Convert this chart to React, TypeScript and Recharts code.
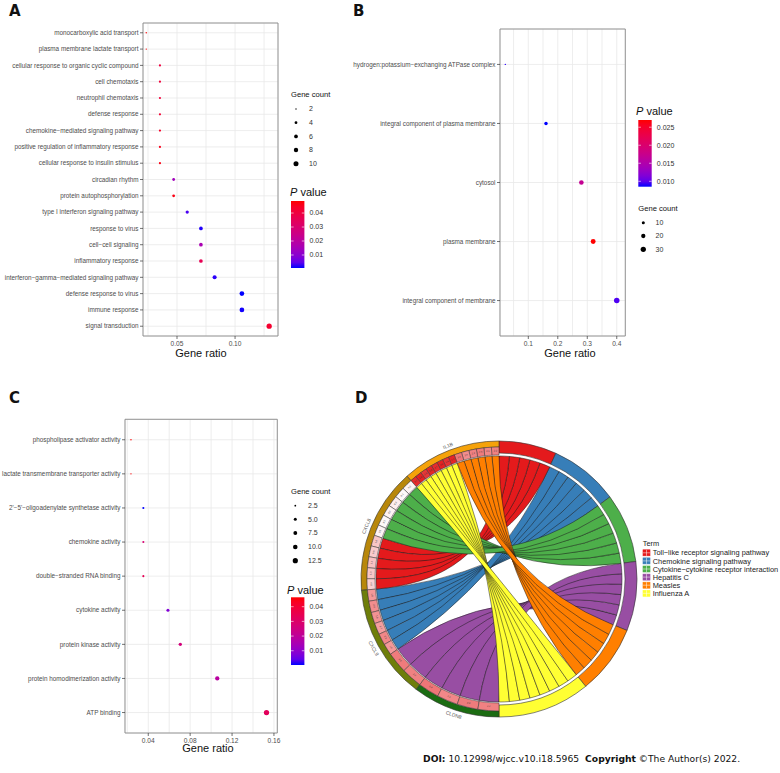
import React from 'react';
import {
  ScatterChart,
  Scatter,
  XAxis,
  YAxis,
  ZAxis,
  CartesianGrid,
  ReferenceArea,
  Cell,
  PieChart,
  Pie,
  Customized
} from 'recharts';

const FONT = '"Liberation Sans", Arial, sans-serif';
const WIDE_FONT = '"DejaVu Sans", Verdana, sans-serif';

// ---------- A: biological process ----------
const termsA = [
  'monocarboxylic acid transport',
  'plasma membrane lactate transport',
  'cellular response to organic cyclic compound',
  'cell chemotaxis',
  'neutrophil chemotaxis',
  'defense response',
  'chemokine−mediated signaling pathway',
  'positive regulation of inflammatory response',
  'cellular response to insulin stimulus',
  'circadian rhythm',
  'protein autophosphorylation',
  'type I interferon signaling pathway',
  'response to virus',
  'cell−cell signaling',
  'inflammatory response',
  'interferon−gamma−mediated signaling pathway',
  'defense response to virus',
  'immune response',
  'signal transduction'
];
const countA = [2, 2, 3, 3, 3, 3, 3, 3, 3, 4, 4, 5, 6, 6, 6, 7, 9, 9, 11];
const ratioA = [0.0235, 0.0235, 0.0353, 0.0353, 0.0353, 0.0353, 0.0353, 0.0353, 0.0353, 0.0471, 0.0471, 0.0588, 0.0706, 0.0706, 0.0706, 0.0824, 0.1059, 0.1059, 0.1294];
const pvalA = [0.0486, 0.0486, 0.040, 0.041, 0.041, 0.042, 0.044, 0.046, 0.047, 0.014, 0.047, 0.003, 0.0012, 0.016, 0.036, 0.0015, 0.0007, 0.0009, 0.043];

// ---------- B: cellular component ----------
const termsB = [
  'hydrogen:potassium−exchanging ATPase complex',
  'integral component of plasma membrane',
  'cytosol',
  'plasma membrane',
  'integral component of membrane'
];
const countB = [2, 13, 23, 26, 33];
const ratioB = [0.022, 0.16, 0.28, 0.32, 0.40];
const pvalB = [0.0088, 0.0085, 0.017, 0.027, 0.0095];

// ---------- C: molecular function ----------
const termsC = [
  'phospholipase activator activity',
  'lactate transmembrane transporter activity',
  "2'−5'−oligoadenylate synthetase activity",
  'chemokine activity',
  'double−stranded RNA binding',
  'cytokine activity',
  'protein kinase activity',
  'protein homodimerization activity',
  'ATP binding'
];
const countC = [2, 2, 3, 3, 3, 5, 6, 9, 13];
const ratioC = [0.0235, 0.0235, 0.0353, 0.0353, 0.0353, 0.0588, 0.0706, 0.1059, 0.1529];
const pvalC = [0.0464, 0.046, 0.0003, 0.028, 0.034, 0.008, 0.026, 0.0187, 0.0325];

// ---------- D: KEGG chord ----------
const pathways = [
  'Toll−like receptor signaling pathway',
  'Chemokine signaling pathway',
  'Cytokine−cytokine receptor interaction',
  'Hepatitis C',
  'Measles',
  'Influenza A'
];
const pathwayColors = ['#E41A1C', '#377EB8', '#4DAF4A', '#984EA3', '#FF7F00', '#FFFF33'];
const genes = ['IL1B', 'CXCL8', 'CXCL9', 'CLDN8'];
const geneColors = ['#F5A20A', '#B8870B', '#6E7E0A', '#1B6C12'];
// gene-side ends of the links, listed from 12 o'clock going anticlockwise
const linkGene = [
  0, 0, 0, 0, 0, 0, 0, 0, 0, 0, 0, 0, 0, 0,
  1, 1, 1, 1, 1, 1, 1, 1, 1, 1, 1,
  2, 2, 2, 2, 2, 2, 2, 2,
  3, 3, 3, 3
];
const linkPathway = [
  4, 4, 4, 4, 4, 4,
  5, 5, 5, 5, 5, 5, 5, 5,
  2, 2, 2, 2, 2, 2,
  0, 0, 0, 0, 0,
  1, 1, 1, 1, 1, 1,
  3, 3, 3, 3, 3, 3
];
const linkWidth = [
  3.3, 3.3, 3.3, 3.3, 3.3, 3.3,
  2.75, 2.75, 2.75, 2.75, 2.75, 2.75, 2.75, 2.75,
  4.8, 4.8, 4.8, 4.8, 4.8, 4.8,
  4.8, 4.8, 4.8, 4.8, 4.8,
  5, 5, 5, 5, 5, 5,
  9.2, 9.2, 9.2, 9.2, 9.2, 9.2
];
const linkLogFC = [
  2.2, 2.1, 2.3, 2.2, 2.0, 2.4,
  3.8, 3.6, 3.9, 3.7, 3.8, 3.5, 3.9, 3.7,
  0.2, 0.1, 0.3, 0.2, 0.1, 0.2,
  1.0, 0.9, 1.1, 1.0, 0.8,
  1.8, 2.0, 1.9, 1.7, 2.1, 1.8,
  2.3, 2.2, 2.4, 2.1, 2.3, 2.2
];

/**
 * colour helpers (ggplot's blue -> red gradient runs through Lab)
 */
const toLin = (c: number) => {
  const v = c / 255;
  return v <= 0.04045 ? v / 12.92 : Math.pow((v + 0.055) / 1.055, 2.4);
};
const fromLin = (v: number) => {
  const c = v <= 0.0031308 ? 12.92 * v : 1.055 * Math.pow(v, 1 / 2.4) - 0.055;
  return Math.round(Math.min(1, Math.max(0, c)) * 255);
};
function rgb2lab(r: number, g: number, b: number) {
  const R = toLin(r), G = toLin(g), B = toLin(b);
  const X = (0.4124 * R + 0.3576 * G + 0.1805 * B) / 0.95047;
  const Y = 0.2126 * R + 0.7152 * G + 0.0722 * B;
  const Z = (0.0193 * R + 0.1192 * G + 0.9505 * B) / 1.08883;
  const f = (t: number) => (t > 0.008856 ? Math.cbrt(t) : 7.787 * t + 16 / 116);
  return [116 * f(Y) - 16, 500 * (f(X) - f(Y)), 200 * (f(Y) - f(Z))];
}
function lab2hex(L: number, a: number, b: number) {
  const fy = (L + 16) / 116, fx = fy + a / 500, fz = fy - b / 200;
  const inv = (t: number) => (t * t * t > 0.008856 ? t * t * t : (t - 16 / 116) / 7.787);
  const X = inv(fx) * 0.95047, Y = inv(fy), Z = inv(fz) * 1.08883;
  const R = 3.2406 * X - 1.5372 * Y - 0.4986 * Z;
  const G = -0.9689 * X + 1.8758 * Y + 0.0415 * Z;
  const B = 0.0557 * X - 0.204 * Y + 1.057 * Z;
  const h = (n: number) => fromLin(n).toString(16).padStart(2, '0');
  return `#${h(R)}${h(G)}${h(B)}`;
}
const LAB_LOW = rgb2lab(0, 0, 255);
const LAB_HIGH = rgb2lab(255, 0, 0);
function pColor(p: number, min: number, max: number) {
  const t = Math.min(1, Math.max(0, (p - min) / (max - min)));
  return lab2hex(
    LAB_LOW[0] + t * (LAB_HIGH[0] - LAB_LOW[0]),
    LAB_LOW[1] + t * (LAB_HIGH[1] - LAB_LOW[1]),
    LAB_LOW[2] + t * (LAB_HIGH[2] - LAB_LOW[2])
  );
}
function fcColor(v: number) {
  const t = Math.min(1, Math.max(0, v / 4));
  const mix = (a: number, b: number) => Math.round(a + (b - a) * t);
  return `rgb(${mix(255, 228)},${mix(255, 26)},${mix(255, 28)})`;
}
const zRadius = (v: number, dom: number[], rng: number[]) =>
  Math.sqrt((rng[0] + ((v - dom[0]) / (dom[1] - dom[0])) * (rng[1] - rng[0])) / Math.PI);

/**
 * Dot plot panels (A, B, C)
 */
const LABEL_SIZE = 6.35;

const XTick = ({ x, y, payload, major, fmt }: any) => {
  const isMajor = major.some((m: number) => Math.abs(m - payload.value) < 1e-9);
  if (!isMajor) return null;
  return (
    <g>
      <line x1={x} x2={x} y1={y - 4.5} y2={y - 1.5} stroke="#333" strokeWidth={0.7} />
      <text x={x} y={y + 5} textAnchor="middle" fontSize={6.6} fill="#4D4D4D" fontFamily={FONT}>
        {fmt(payload.value)}
      </text>
    </g>
  );
};

const YTick = ({ x, y, payload, labels }: any) => (
  <text x={x} y={y} dy={2.2} textAnchor="end" fontSize={LABEL_SIZE} fill="#4D4D4D" fontFamily={FONT}>
    {labels[payload.value]}
  </text>
);

interface DotPanelProps {
  left: number;
  top: number;
  width: number;
  height: number;
  marginTop: number;
  marginRight: number;
  yAxisWidth: number;
  labels: string[];
  ratios: number[];
  counts: number[];
  pvals: number[];
  xDomain: [number, number];
  major: number[];
  minor: number[];
  fmt: (v: number) => string;
  zDomain: [number, number];
  zRange: [number, number];
}

function DotPanel(props: DotPanelProps) {
  const { labels, ratios, counts, pvals, xDomain, major, minor, zDomain, zRange } = props;
  const n = labels.length;
  const data = labels.map((t, i) => ({ term: t, y: i, ratio: ratios[i], count: counts[i], p: pvals[i] }));
  const pMin = Math.min(...pvals);
  const pMax = Math.max(...pvals);
  const ticks = [...major, ...minor].sort((a, b) => a - b);
  return (
    <div style={{ position: 'absolute', left: props.left, top: props.top }}>
      <ScatterChart
        width={props.width}
        height={props.height}
        margin={{ top: props.marginTop, right: props.marginRight, bottom: 0, left: 0 }}
      >
        <CartesianGrid stroke="#E8E8E8" strokeWidth={0.8} />
        <XAxis
          type="number"
          dataKey="ratio"
          domain={xDomain}
          allowDataOverflow
          ticks={ticks}
          interval={0}
          height={16}
          axisLine={false}
          tickLine={false}
          tickSize={3}
          tickMargin={1.5}
          tick={<XTick major={major} fmt={props.fmt} />}
        />
        <YAxis
          type="number"
          dataKey="y"
          domain={[-0.6, n - 0.4]}
          allowDataOverflow
          reversed
          ticks={labels.map((_, i) => i)}
          interval={0}
          width={props.yAxisWidth}
          axisLine={false}
          tickSize={3}
          tickMargin={1.5}
          tickLine={{ stroke: '#333', strokeWidth: 0.7 }}
          tick={<YTick labels={labels} />}
        />
        <ZAxis type="number" dataKey="count" domain={zDomain} range={zRange} />
        <ReferenceArea
          x1={xDomain[0]}
          x2={xDomain[1]}
          y1={-0.6}
          y2={n - 0.4}
          fill="none"
          fillOpacity={0}
          stroke="#8A8A8A"
          strokeWidth={0.9}
          ifOverflow="visible"
        />
        <Scatter data={data} isAnimationActive={false}>
          {data.map((d, i) => (
            <Cell key={`pt-${i}`} fill={pColor(d.p, pMin, pMax)} />
          ))}
        </Scatter>
      </ScatterChart>
    </div>
  );
}

/**
 * Chord diagram (D)
 */
const CX = 159;
const CY = 159;
const RAD = Math.PI / 180;

const geneRing = genes.map((g, gi) => ({
  name: g,
  value: linkWidth.filter((_, i) => linkGene[i] === gi).reduce((a, b) => a + b, 0)
}));
const pathwayRing = pathways.map((p, pi) => ({
  name: p,
  value: linkPathway.filter((x) => x === pi).length
}));
const boxRing = linkWidth.map((w, i) => ({ name: `l${i}`, value: w, fc: linkLogFC[i] }));

const clockOf = (midAngle: number) => (((90 - midAngle) % 360) + 360) % 360;

function GeneLabel(props: any) {
  const { cx, cy, midAngle, index } = props;
  const c = clockOf(midAngle);
  const r = 143;
  const x = cx + r * Math.sin(c * RAD);
  const y = cy - r * Math.cos(c * RAD);
  const rot = c > 270 ? c - 360 : c - 180;
  return (
    <text x={x} y={y} transform={`rotate(${rot} ${x} ${y})`} textAnchor="middle" dominantBaseline="central" fontSize={5} fill="#555" fontFamily={FONT}>
      {genes[index]}
    </text>
  );
}

function BoxLabel(props: any) {
  const { cx, cy, midAngle, index } = props;
  const c = clockOf(midAngle);
  const r = 128;
  const x = cx + r * Math.sin(c * RAD);
  const y = cy - r * Math.cos(c * RAD);
  const rot = c > 270 ? c - 360 : c - 180;
  return (
    <text x={x} y={y} transform={`rotate(${rot} ${x} ${y})`} textAnchor="middle" dominantBaseline="central" fontSize={2.4} fill="#333" fontFamily={FONT}>
      {linkLogFC[index].toFixed(1)}
    </text>
  );
}

function Ribbons() {
  const r = 123;
  const pt = (c: number) => `${(CX + r * Math.sin(c * RAD)).toFixed(2)} ${(CY - r * Math.cos(c * RAD)).toFixed(2)}`;
  const totalW = linkWidth.reduce((a, b) => a + b, 0);
  const step = 180 / linkPathway.length;
  const counts = pathways.map((_, t) => linkPathway.filter((p) => p === t).length);
  const starts = counts.map((_, t) => counts.slice(0, t).reduce((a, b) => a + b, 0) * step);
  const seen = pathways.map(() => 0);
  let cum = 0;
  const ribbons = linkPathway.map((t, i) => {
    const hi = 360 - (cum * 180) / totalW;
    cum += linkWidth[i];
    const lo = 360 - (cum * 180) / totalW;
    // top-most gene end meets the lowest pathway slot, so each bundle twists
    const k = counts[t] - 1 - seen[t];
    seen[t] += 1;
    const a1 = starts[t] + k * step;
    const a2 = a1 + step;
    const d = `M ${pt(a1)} A ${r} ${r} 0 0 1 ${pt(a2)} Q ${CX} ${CY} ${pt(lo)} A ${r} ${r} 0 0 1 ${pt(hi)} Q ${CX} ${CY} ${pt(a1)} Z`;
    return { t, d };
  });
  const order = [3, 1, 0, 2, 5, 4];
  return (
    <g>
      {order.flatMap((t) =>
        ribbons
          .filter((rb) => rb.t === t)
          .map((rb, i) => (
            <path key={`rb-${t}-${i}`} d={rb.d} fill={pathwayColors[t]} stroke="#1a1a1a" strokeWidth={0.5} />
          ))
      )}
    </g>
  );
}

function ChordPanel() {
  return (
    <div style={{ position: 'absolute', left: 340, top: 420 }}>
      <PieChart width={330} height={320} margin={{ top: 0, right: 0, bottom: 0, left: 0 }}>
        <Customized component={<Ribbons />} />
        <Pie
          data={pathwayRing}
          dataKey="value"
          nameKey="name"
          cx={CX}
          cy={CY}
          startAngle={90}
          endAngle={-90}
          innerRadius={126}
          outerRadius={138}
          stroke="#333"
          strokeWidth={0.6}
          isAnimationActive={false}
        >
          {pathwayRing.map((_, i) => (
            <Cell key={`pw-${i}`} fill={pathwayColors[i]} />
          ))}
        </Pie>
        <Pie
          data={geneRing}
          dataKey="value"
          nameKey="name"
          cx={CX}
          cy={CY}
          startAngle={90}
          endAngle={270}
          innerRadius={132}
          outerRadius={138}
          stroke="#333"
          strokeWidth={0.6}
          label={GeneLabel}
          labelLine={false}
          isAnimationActive={false}
        >
          {geneRing.map((_, i) => (
            <Cell key={`g-${i}`} fill={geneColors[i]} />
          ))}
        </Pie>
        <Pie
          data={boxRing}
          dataKey="value"
          nameKey="name"
          cx={CX}
          cy={CY}
          startAngle={90}
          endAngle={270}
          innerRadius={124}
          outerRadius={132}
          stroke="#333"
          strokeWidth={0.5}
          label={BoxLabel}
          labelLine={false}
          isAnimationActive={false}
        >
          {boxRing.map((b, i) => (
            <Cell key={`b-${i}`} fill={fcColor(b.fc)} />
          ))}
        </Pie>
      </PieChart>
    </div>
  );
}

/**
 * Legends and titles
 */
function PValueLegend({ id, x, titleY, barX, barTop, barBottom, pvals, ticks, fmt }: any) {
  const min = Math.min(...pvals);
  const max = Math.max(...pvals);
  const yOf = (v: number) => barBottom - ((v - min) / (max - min)) * (barBottom - barTop);
  const stops = Array.from({ length: 13 }, (_, i) => i / 12);
  const w = 13.4;
  return (
    <g>
      <text x={x} y={titleY} fontSize={11} fill="#111" fontFamily={FONT}>
        <tspan fontStyle="italic">P</tspan> value
      </text>
      <defs>
        <linearGradient id={id} x1="0" y1="1" x2="0" y2="0">
          {stops.map((t) => (
            <stop key={t} offset={t} stopColor={pColor(min + t * (max - min), min, max)} />
          ))}
        </linearGradient>
      </defs>
      <rect x={barX} y={barTop} width={w} height={barBottom - barTop} fill={`url(#${id})`} />
      {ticks.map((v: number) => (
        <g key={v}>
          <line x1={barX} x2={barX + 2.6} y1={yOf(v)} y2={yOf(v)} stroke="#fff" strokeWidth={0.6} />
          <line x1={barX + w - 2.6} x2={barX + w} y1={yOf(v)} y2={yOf(v)} stroke="#fff" strokeWidth={0.6} />
          <text x={barX + 18.5} y={yOf(v) + 2.4} fontSize={7} fill="#333" fontFamily={FONT}>
            {fmt(v)}
          </text>
        </g>
      ))}
    </g>
  );
}

function CountLegend({ x, titleY, dotX, labelX, values, ys, fmt, zDomain, zRange }: any) {
  return (
    <g>
      <text x={x} y={titleY} fontSize={7.6} fill="#111" fontFamily={FONT}>
        Gene count
      </text>
      {values.map((v: number, i: number) => (
        <g key={v}>
          <circle cx={dotX} cy={ys[i]} r={zRadius(v, zDomain, zRange)} fill="#000" />
          <text x={labelX} y={ys[i] + 2.4} fontSize={7} fill="#333" fontFamily={FONT}>
            {fmt(v)}
          </text>
        </g>
      ))}
    </g>
  );
}

const zDomA: [number, number] = [2, 11];
const zRngA: [number, number] = [1.5, 22];
const zDomB: [number, number] = [2, 33];
const zRngB: [number, number] = [1.5, 24];
const zDomC: [number, number] = [2, 13];
const zRngC: [number, number] = [1.5, 22];

function Overlay() {
  const letter = { fontSize: 15, fontWeight: 700, fill: '#111', fontFamily: WIDE_FONT } as const;
  const axisTitle = { fontSize: 11, fill: '#111', fontFamily: FONT, textAnchor: 'middle' } as const;
  return (
    <svg width={780} height={773} style={{ position: 'absolute', left: 0, top: 0, pointerEvents: 'none' }}>
      <text x={9} y={16} {...letter}>A</text>
      <text x={353} y={16} {...letter}>B</text>
      <text x={9} y={403} {...letter}>C</text>
      <text x={355} y={403} {...letter}>D</text>

      <text x={201} y={357} {...axisTitle}>Gene ratio</text>
      <text x={570} y={357} {...axisTitle}>Gene ratio</text>
      <text x={208} y={752} {...axisTitle}>Gene ratio</text>

      <CountLegend x={291} titleY={97} dotX={296} labelX={309} values={[2, 4, 6, 8, 10]}
        ys={[109, 122.7, 136.4, 150, 163.7]} fmt={(v: number) => `${v}`} zDomain={zDomA} zRange={zRngA} />
      <PValueLegend id="gradA" x={290} titleY={195.5} barX={291} barTop={201} barBottom={268}
        pvals={pvalA} ticks={[0.01, 0.02, 0.03, 0.04]} fmt={(v: number) => v.toFixed(2)} />

      <PValueLegend id="gradB" x={636} titleY={115} barX={638.3} barTop={120} barBottom={186.7}
        pvals={pvalB} ticks={[0.01, 0.015, 0.02, 0.025]} fmt={(v: number) => v.toFixed(3)} />
      <CountLegend x={638.3} titleY={211} dotX={643.3} labelX={655.5} values={[10, 20, 30]}
        ys={[222.7, 236, 249.3]} fmt={(v: number) => `${v}`} zDomain={zDomB} zRange={zRngB} />

      <CountLegend x={291} titleY={494} dotX={295.3} labelX={308} values={[2.5, 5, 7.5, 10, 12.5]}
        ys={[505.7, 519.3, 533, 547, 560.7]} fmt={(v: number) => v.toFixed(1)} zDomain={zDomC} zRange={zRngC} />
      <PValueLegend id="gradC" x={287} titleY={594} barX={291} barTop={597.3} barBottom={665}
        pvals={pvalC} ticks={[0.01, 0.02, 0.03, 0.04]} fmt={(v: number) => v.toFixed(2)} />

      <text x={642.7} y={545.5} fontSize={7.4} fill="#222" fontFamily={FONT}>Term</text>
      {pathways.map((p, i) => {
        const cy = 552.8 + i * 8.1;
        return (
          <g key={p}>
            <rect x={643} y={cy - 3} width={7} height={6} fill={pathwayColors[i]} stroke={pathwayColors[i]} strokeWidth={0.6} />
            <line x1={643} x2={650} y1={cy} y2={cy} stroke="#fff" strokeWidth={0.5} />
            <line x1={646.5} x2={646.5} y1={cy - 3} y2={cy + 3} stroke="#fff" strokeWidth={0.5} />
            <text x={652.7} y={cy + 2.6} fontSize={7.4} fill="#222" fontFamily={FONT}>{p}</text>
          </g>
        );
      })}

      <text x={423} y={761.5} fontSize={9.2} fill="#111" fontFamily={WIDE_FONT}>
        <tspan fontWeight={700}>DOI:</tspan> 10.12998/wjcc.v10.i18.5965
        <tspan dx={6} fontWeight={700}>Copyright</tspan> ©The Author(s) 2022.
      </text>
    </svg>
  );
}

export default function App() {
  return (
    <div style={{ position: 'absolute', left: 0, top: 0, width: 780, height: 773, background: '#fff', overflow: 'hidden' }}>
      <DotPanel
        left={0}
        top={0}
        width={290}
        height={352}
        marginTop={23}
        marginRight={12}
        yAxisWidth={143}
        labels={termsA}
        ratios={ratioA}
        counts={countA}
        pvals={pvalA}
        xDomain={[0.0207, 0.137]}
        major={[0.05, 0.1]}
        minor={[0.025, 0.075, 0.125]}
        fmt={(v) => v.toFixed(2)}
        zDomain={zDomA}
        zRange={zRngA}
      />
      <DotPanel
        left={340}
        top={0}
        width={297}
        height={352}
        marginTop={29}
        marginRight={11.7}
        yAxisWidth={160}
        labels={termsB}
        ratios={ratioB}
        counts={countB}
        pvals={pvalB}
        xDomain={[0.004, 0.429]}
        major={[0.1, 0.2, 0.3, 0.4]}
        minor={[0.05, 0.15, 0.25, 0.35]}
        fmt={(v) => v.toFixed(1)}
        zDomain={zDomB}
        zRange={zRngB}
      />
      <DotPanel
        left={0}
        top={380}
        width={289}
        height={369}
        marginTop={39.3}
        marginRight={11.7}
        yAxisWidth={125}
        labels={termsC}
        ratios={ratioC}
        counts={countC}
        pvals={pvalC}
        xDomain={[0.0178, 0.1632]}
        major={[0.04, 0.08, 0.12, 0.16]}
        minor={[0.02, 0.06, 0.1, 0.14]}
        fmt={(v) => v.toFixed(2)}
        zDomain={zDomC}
        zRange={zRngC}
      />
      <ChordPanel />
      <Overlay />
    </div>
  );
}
